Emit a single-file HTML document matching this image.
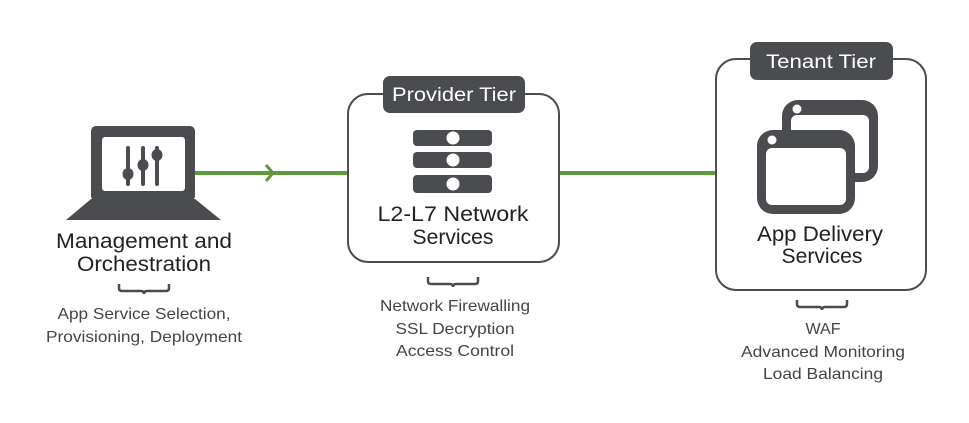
<!DOCTYPE html>
<html><head><meta charset="utf-8"><style>
html,body{margin:0;padding:0;background:#fff;}
svg{display:block;}
text{font-family:"Liberation Sans",Arial,sans-serif;}
</style></head><body>
<svg width="969" height="423" viewBox="0 0 969 423" xmlns="http://www.w3.org/2000/svg">
<rect width="969" height="423" fill="#fff"/>
<!-- connectors -->
<line x1="195" y1="173" x2="348" y2="173" stroke="#5c9a3c" stroke-width="4"/>
<polyline points="266,165 273,173 266,181" fill="none" stroke="#5c9a3c" stroke-width="3"/>
<line x1="559" y1="173" x2="716" y2="173" stroke="#5c9a3c" stroke-width="4"/>
<!-- laptop -->
<rect x="91" y="126" width="104" height="75" rx="5" fill="#4b4c4f"/>
<rect x="102" y="137" width="83" height="54" rx="3" fill="#fff"/>
<polygon points="91,199 195,199 221,220 66,220" fill="#4b4c4f"/>
<g stroke="#4b4c4f" stroke-width="4" stroke-linecap="round">
<line x1="128" y1="148" x2="128" y2="184"/>
<line x1="143" y1="148" x2="143" y2="184"/>
<line x1="157" y1="148" x2="157" y2="184"/>
</g>
<g fill="#4b4c4f">
<ellipse cx="128" cy="174" rx="5.5" ry="6"/>
<ellipse cx="143" cy="165" rx="5.5" ry="6"/>
<ellipse cx="157" cy="155" rx="5.5" ry="6"/>
</g>
<!-- provider box -->
<rect x="348" y="94" width="211" height="168" rx="20" fill="#fff" stroke="#4b4c4f" stroke-width="2"/>
<rect x="383" y="76" width="142" height="37" rx="7" fill="#4b4c4f"/>
<text x="454" y="101" font-size="19" fill="#fff" text-anchor="middle" textLength="124" lengthAdjust="spacingAndGlyphs">Provider Tier</text>
<g fill="#4b4c4f">
<rect x="413" y="130" width="79" height="16" rx="4"/>
<rect x="413" y="152" width="79" height="16" rx="4"/>
<rect x="413" y="175" width="79" height="18" rx="4"/>
</g>
<g fill="#fff">
<circle cx="453" cy="138" r="6.5"/>
<circle cx="453" cy="160" r="6.5"/>
<circle cx="453" cy="184" r="6.5"/>
</g>
<text x="453" y="221" font-size="21" fill="#222" text-anchor="middle" textLength="151" lengthAdjust="spacingAndGlyphs">L2-L7 Network</text>
<text x="453" y="244" font-size="21" fill="#222" text-anchor="middle" textLength="81" lengthAdjust="spacingAndGlyphs">Services</text>
<!-- tenant box -->
<rect x="716" y="59" width="210" height="231" rx="20" fill="#fff" stroke="#4b4c4f" stroke-width="2"/>
<rect x="750" y="42" width="143" height="38" rx="7" fill="#4b4c4f"/>
<text x="821" y="68" font-size="19" fill="#fff" text-anchor="middle" textLength="110" lengthAdjust="spacingAndGlyphs">Tenant Tier</text>
<rect x="782" y="100" width="96" height="82" rx="16" fill="#4b4c4f"/>
<rect x="791" y="115" width="78" height="58" rx="6" fill="#fff"/>
<circle cx="797" cy="109" r="4.5" fill="#fff"/>
<rect x="757" y="130" width="98" height="84" rx="16" fill="#4b4c4f"/>
<rect x="766" y="148" width="80" height="57" rx="6" fill="#fff"/>
<circle cx="772" cy="140" r="4.5" fill="#fff"/>
<text x="820" y="241" font-size="21" fill="#222" text-anchor="middle" textLength="126" lengthAdjust="spacingAndGlyphs">App Delivery</text>
<text x="822" y="263" font-size="21" fill="#222" text-anchor="middle" textLength="81" lengthAdjust="spacingAndGlyphs">Services</text>
<!-- left labels -->
<text x="144" y="248" font-size="21" fill="#222" text-anchor="middle" textLength="176" lengthAdjust="spacingAndGlyphs">Management and</text>
<text x="144" y="271" font-size="21" fill="#222" text-anchor="middle" textLength="134" lengthAdjust="spacingAndGlyphs">Orchestration</text>
<!-- braces -->
<g fill="none" stroke="#4b4c4f" stroke-width="2.5">
<path d="M119,284 v4 q0,3 3,3 h19 q3,0 3,3 q0,-3 3,-3 h19 q3,0 3,-3 v-4"/>
<path d="M428,277 v4 q0,3 3,3 h19 q3,0 3,3 q0,-3 3,-3 h19 q3,0 3,-3 v-4"/>
<path d="M797,300 v4 q0,3 3,3 h19 q3,0 3,3 q0,-3 3,-3 h19 q3,0 3,-3 v-4"/>
</g>
<g font-size="16" fill="#444" text-anchor="middle">
<text x="144" y="319" textLength="173" lengthAdjust="spacingAndGlyphs">App Service Selection,</text>
<text x="144" y="342" textLength="196" lengthAdjust="spacingAndGlyphs">Provisioning, Deployment</text>
<text x="455" y="311" textLength="150" lengthAdjust="spacingAndGlyphs">Network Firewalling</text>
<text x="455" y="334" textLength="119" lengthAdjust="spacingAndGlyphs">SSL Decryption</text>
<text x="455" y="356" textLength="118" lengthAdjust="spacingAndGlyphs">Access Control</text>
<text x="823" y="334" textLength="35" lengthAdjust="spacingAndGlyphs">WAF</text>
<text x="823" y="357" textLength="164" lengthAdjust="spacingAndGlyphs">Advanced Monitoring</text>
<text x="823" y="379" textLength="120" lengthAdjust="spacingAndGlyphs">Load Balancing</text>
</g>
</svg>
</body></html>
